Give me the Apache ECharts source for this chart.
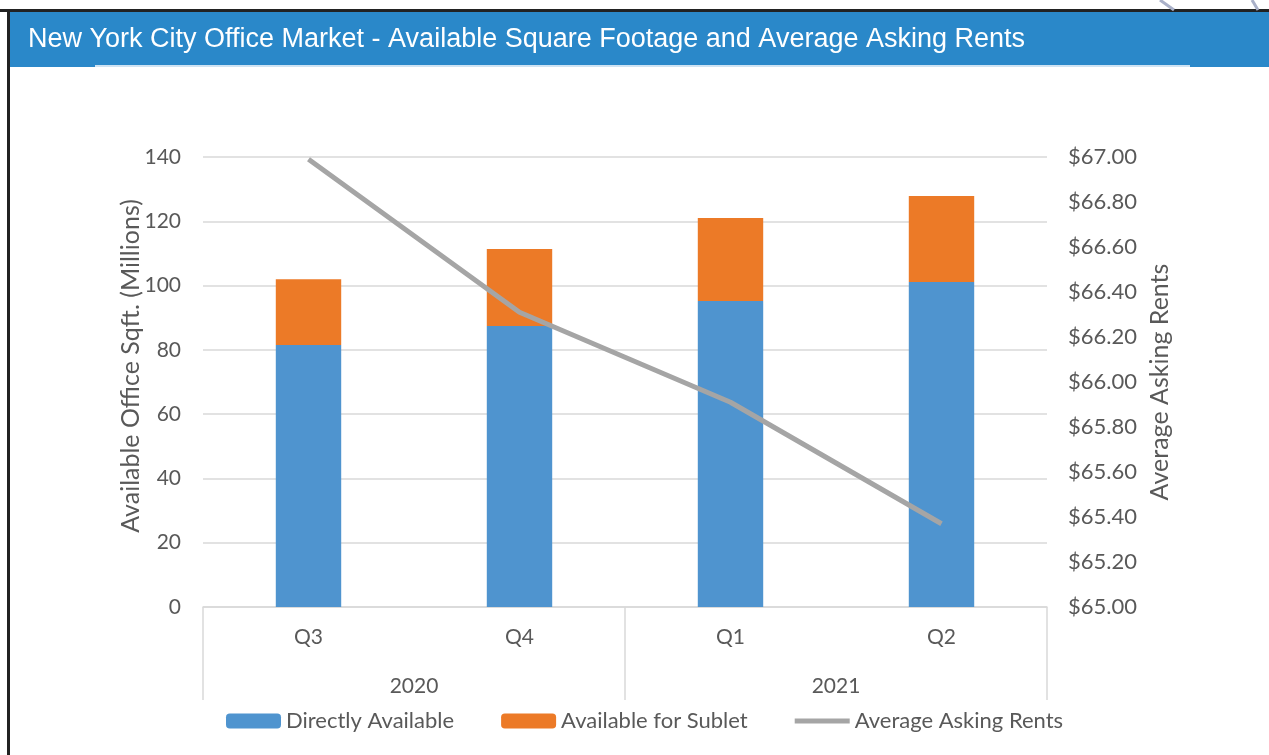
<!DOCTYPE html>
<html>
<head>
<meta charset="utf-8">
<script src="https://cdn.jsdelivr.net/npm/echarts@6/dist/echarts.min.js"></script>
<style>
  html, body { margin: 0; padding: 0; background: #fff; }
  #chart { width: 1269px; height: 755px; }
</style>
</head>
<body>
<div id="chart"></div>
<script>
// quarters and year groups
const quarters = ['Q3', 'Q4', 'Q1', 'Q2'];
const years = ['2020', '2021'];

// available sqft, millions
const directlyAvailable = [81.5, 87.4, 95.2, 101.1];
const availableForSublet = [20.5, 24.0, 25.8, 26.8];

// average asking rents, $
const askingRents = [66.99, 66.31, 65.91, 65.37];

const textColor = '#595959';
const gridColor = '#d9d9d9';
const fontFamily = 'Lato, "Noto Sans", sans-serif';

let chart = echarts.init(document.getElementById('chart'));

let option = {
    animation: false,
    backgroundColor: '#fff',
    textStyle: { fontFamily: fontFamily },
    graphic: [
        // outer frame of the scanned page
        { type: 'rect', shape: { x: 0, y: 9, width: 1269, height: 3 }, style: { fill: '#222' }, z: 10 },
        { type: 'rect', shape: { x: 7, y: 9, width: 3, height: 746 }, style: { fill: '#222' }, z: 10 },
        // blue header band
        { type: 'rect', shape: { x: 10, y: 12, width: 1259, height: 55 }, style: { fill: '#2a88c9' }, z: 1 },
        { type: 'rect', shape: { x: 95, y: 65, width: 1095, height: 2 }, style: { fill: '#cfe3f3' }, z: 2 },
        {
            type: 'text', left: 28, top: 26, z: 3,
            style: {
                text: 'New York City Office Market - Available Square Footage and Average Asking Rents',
                fill: '#fff',
                font: '27px "Liberation Sans", Arial, sans-serif'
            }
        },
        // page curl marks in the corner
        { type: 'line', shape: { x1: 1160, y1: 0, x2: 1174, y2: 10 }, style: { stroke: '#a9b0c8', lineWidth: 3 }, z: 11 },
        { type: 'line', shape: { x1: 1252, y1: 0, x2: 1258, y2: 10 }, style: { stroke: '#a9b0c8', lineWidth: 3 }, z: 11 }
    ],
    legend: {
        top: 705,
        left: 221,
        itemWidth: 55,
        itemHeight: 15,
        itemGap: 47,
        textStyle: { color: textColor, fontSize: 22, fontFamily: fontFamily },
        data: [
            'Directly Available',
            'Available for Sublet',
            // thick flat bar, like the line swatch in the original
            { name: 'Average Asking Rents', icon: 'path://M0,0 L55,0 L55,5 L0,5 Z' }
        ]
    },
    grid: {
        left: 203,
        right: 222,
        top: 157,
        bottom: 148
    },
    xAxis: [
        {
            type: 'category',
            data: quarters,
            axisLine: { lineStyle: { color: gridColor, width: 1.5 } },
            axisTick: { show: false },
            axisLabel: { color: textColor, fontSize: 21, margin: 20 }
        },
        {
            type: 'category',
            data: years,
            position: 'bottom',
            axisLine: { show: false },
            axisTick: { show: true, length: 93, lineStyle: { color: gridColor, width: 1.5 } },
            axisLabel: { color: textColor, fontSize: 21, margin: 69 }
        }
    ],
    yAxis: [
        {
            type: 'value',
            min: 0,
            max: 140,
            interval: 20,
            name: 'Available Office Sqft. (Millions)',
            nameLocation: 'middle',
            nameGap: 60,
            nameMoveOverlap: false,
            nameTextStyle: { color: textColor, fontSize: 25, padding: [0, 0, 0, 32] },
            axisLine: { show: false },
            axisTick: { show: false },
            axisLabel: { color: textColor, fontSize: 21, margin: 22 },
            splitLine: { lineStyle: { color: gridColor, width: 1.5 } }
        },
        {
            type: 'value',
            min: 65,
            max: 67,
            interval: 0.2,
            name: 'Average Asking Rents',
            nameLocation: 'middle',
            nameGap: 100,
            nameRotate: 90,
            nameMoveOverlap: false,
            nameTextStyle: { color: textColor, fontSize: 25 },
            axisLine: { show: false },
            axisTick: { show: false },
            splitLine: { show: false },
            axisLabel: {
                color: textColor,
                fontSize: 22,
                margin: 21,
                formatter: v => '$' + v.toFixed(2)
            }
        }
    ],
    series: [
        {
            name: 'Directly Available',
            type: 'bar',
            stack: 'sqft',
            barWidth: '31%',
            itemStyle: { color: '#4f94cf' },
            data: directlyAvailable
        },
        {
            name: 'Available for Sublet',
            type: 'bar',
            stack: 'sqft',
            barWidth: '31%',
            itemStyle: { color: '#ec7a27' },
            data: availableForSublet
        },
        {
            name: 'Average Asking Rents',
            type: 'line',
            yAxisIndex: 1,
            symbol: 'none',
            lineStyle: { color: '#a5a5a5', width: 5 },
            itemStyle: { color: '#a5a5a5' },
            data: askingRents
        }
    ]
};

chart.setOption(option);
</script>
</body>
</html>
